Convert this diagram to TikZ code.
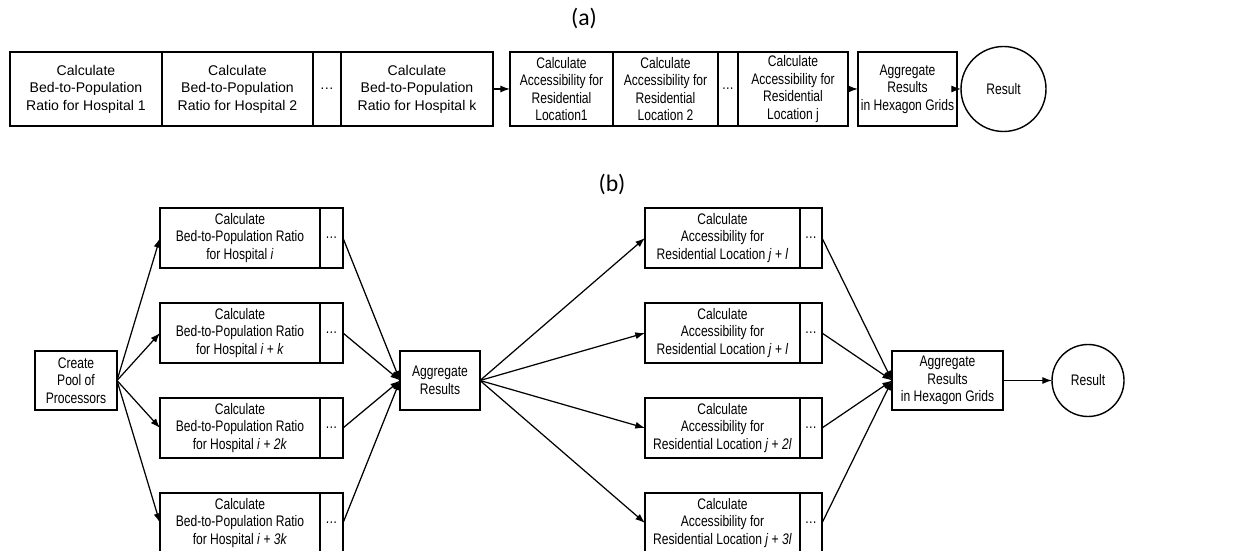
\documentclass[tikz,border=0pt]{standalone}
\usepackage{fontspec}
\setmainfont{Liberation Sans}
\newfontfamily\narrowsans[FakeStretch=0.79]{Liberation Sans}
\newfontfamily\titlefont{Carlito}
\usetikzlibrary{arrows.meta,positioning}

\tikzset{
  stage/.style={rectangle, draw, line width=0.8pt, align=center, inner sep=1pt, outer sep=0pt, minimum height=1.48cm, font=\fontsize{8}{10}\selectfont},
  narrowstage/.style={stage, font=\narrowsans\fontsize{8.7}{10}\selectfont},
  substage/.style={narrowstage, minimum height=1.2cm},
  endstate/.style={circle, draw, line width=0.8pt, outer sep=0pt, font=\narrowsans\fontsize{8.7}{10}\selectfont},
  flow/.style={-{Latex[length=5.5pt,width=4pt]}, line width=0.7pt},
  caption/.style={font=\titlefont\fontsize{13.5}{15}\selectfont}
}

\begin{document}
\begin{tikzpicture}
    \useasboundingbox (0,0) rectangle (24.92,11);
    % (a) sequential
    \node(capa) [caption] at (11.68,10.64) {(a)};
    \node(h1) [stage, minimum width=3.04cm, anchor=west] at (0.2,9.22) {Calculate\\Bed-to-Population\\Ratio for Hospital 1};
    \node(h2) [stage, minimum width=3.02cm, right=0cm of h1] {Calculate\\Bed-to-Population\\Ratio for Hospital 2};
    \node(hdots) [stage, minimum width=0.56cm, right=0cm of h2] {\dots};
    \node(hk) [stage, minimum width=3.04cm, right=0cm of hdots] {Calculate\\Bed-to-Population\\Ratio for Hospital k};
    \node(a1) [narrowstage, minimum width=2.06cm, right=0.34cm of hk] {Calculate\\Accessibility for\\Residential\\Location1};
    \node(a2) [narrowstage, minimum width=2.1cm, right=0cm of a1] {Calculate\\Accessibility for\\Residential\\Location 2};
    \node(adots) [narrowstage, minimum width=0.4cm, right=0cm of a2] {\dots};
    \node(aj) [narrowstage, minimum width=2.2cm, right=0cm of adots] {Calculate\\Accessibility for\\Residential\\Location j};
    \node(agg) [narrowstage, minimum width=1.98cm, right=0.2cm of aj] {Aggregate\\Results\\in Hexagon Grids};
    \node(res) [endstate, minimum size=1.7cm, right=0.08cm of agg] {Result};
    \draw[flow] (hk) -- (a1);
    \draw[flow] (aj) -- (agg);
    \draw[flow] (agg) -- (res);

    % (b) parallel
    \node(capb) [caption] at (12.24,7.32) {(b)};
    \node(pool) [substage, minimum width=1.64cm, minimum height=1.18cm, anchor=west] at (0.7,3.39) {Create\\Pool of\\Processors};
    \node(hosp1) [substage, minimum width=3.2cm, anchor=west] at (3.2,6.24) {Calculate\\Bed-to-Population Ratio\\for Hospital \textit{i}};
    \node(hosp2) [substage, minimum width=3.2cm, below=0.7cm of hosp1] {Calculate\\Bed-to-Population Ratio\\for Hospital \textit{i} + \textit{k}};
    \node(hosp3) [substage, minimum width=3.2cm, below=0.7cm of hosp2] {Calculate\\Bed-to-Population Ratio\\for Hospital \textit{i} + \textit{2k}};
    \node(hosp4) [substage, minimum width=3.2cm, below=0.7cm of hosp3] {Calculate\\Bed-to-Population Ratio\\for Hospital \textit{i} + \textit{3k}};
    \node(hd1) [substage, minimum width=0.46cm, right=0cm of hosp1] {\dots};
    \node(hd2) [substage, minimum width=0.46cm, right=0cm of hosp2] {\dots};
    \node(hd3) [substage, minimum width=0.46cm, right=0cm of hosp3] {\dots};
    \node(hd4) [substage, minimum width=0.46cm, right=0cm of hosp4] {\dots};
    \node(mid) [substage, minimum width=1.6cm, minimum height=1.18cm, anchor=west] at (8,3.39) {Aggregate\\Results};
    \node(acc1) [substage, minimum width=3.1cm, anchor=west] at (12.9,6.24) {Calculate\\Accessibility for\\Residential Location \textit{j} + \textit{l}};
    \node(acc2) [substage, minimum width=3.1cm, below=0.7cm of acc1] {Calculate\\Accessibility for\\Residential Location \textit{j} + \textit{l}};
    \node(acc3) [substage, minimum width=3.1cm, below=0.7cm of acc2] {Calculate\\Accessibility for\\Residential Location \textit{j} + \textit{2l}};
    \node(acc4) [substage, minimum width=3.1cm, below=0.7cm of acc3] {Calculate\\Accessibility for\\Residential Location \textit{j} + \textit{3l}};
    \node(ad1) [substage, minimum width=0.44cm, right=0cm of acc1] {\dots};
    \node(ad2) [substage, minimum width=0.44cm, right=0cm of acc2] {\dots};
    \node(ad3) [substage, minimum width=0.44cm, right=0cm of acc3] {\dots};
    \node(ad4) [substage, minimum width=0.44cm, right=0cm of acc4] {\dots};
    \node(hexagg) [substage, minimum width=2.22cm, minimum height=1.18cm, anchor=west] at (17.84,3.39) {Aggregate\\Results\\in Hexagon Grids};
    \node(final) [endstate, minimum size=1.44cm, anchor=west] at (21.04,3.39) {Result};

    \draw[flow] (pool.east) -- (hosp1.west);
    \draw[flow] (pool.east) -- (hosp2.west);
    \draw[flow] (pool.east) -- (hosp3.west);
    \draw[flow] (pool.east) -- (hosp4.west);
    \draw[flow] (hd1.east) -- (mid.west);
    \draw[flow] (hd2.east) -- (mid.west);
    \draw[flow] (hd3.east) -- (mid.west);
    \draw[flow] (hd4.east) -- (mid.west);
    \draw[flow] (mid.east) -- (acc1.west);
    \draw[flow] (mid.east) -- (acc2.west);
    \draw[flow] (mid.east) -- (acc3.west);
    \draw[flow] (mid.east) -- (acc4.west);
    \draw[flow] (ad1.east) -- (hexagg.west);
    \draw[flow] (ad2.east) -- (hexagg.west);
    \draw[flow] (ad3.east) -- (hexagg.west);
    \draw[flow] (ad4.east) -- (hexagg.west);
    \draw[flow] (hexagg) -- (final);
\end{tikzpicture}
\end{document}
